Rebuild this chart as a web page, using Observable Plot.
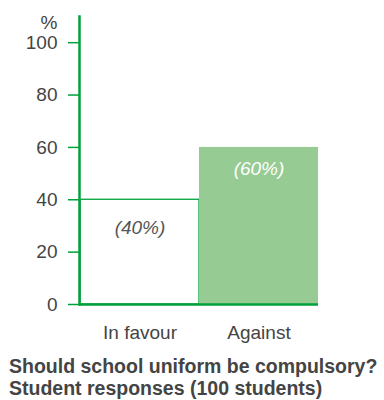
<!DOCTYPE html>
<html><head><meta charset="utf-8">
<script src="https://cdn.jsdelivr.net/npm/d3@7"></script>
<script src="https://cdn.jsdelivr.net/npm/@observablehq/plot@0.6"></script>
<style>
body{margin:0;background:#fff;font-family:"Liberation Sans",Arial,sans-serif;}
#chart svg{display:block;}
#cap{padding:8px 0 0 9px;font-weight:bold;font-size:19.5px;line-height:21.5px;color:#444;white-space:nowrap;}
</style></head><body>
<div id="chart"></div>
<div id="cap"></div>
<script>
const categories = ["In favour", "Against"];
const values = [40, 60];
const valueLabels = ["(40%)", "(60%)"];
const yTicks = [0, 20, 40, 60, 80, 100];
const yMax = 110;
const yUnit = "%";
const captionLines = ["Should school uniform be compulsory?", "Student responses (100 students)"];

const data = categories.map((c, i) => ({category: c, value: values[i], label: valueLabels[i]}));
const green = "#00a13b";
const fillGreen = "#96cb94";
const textColor = "#444";
const fs = 19;

const chart = Plot.plot({
  width: 384, height: 348,
  marginLeft: 79, marginRight: 66, marginTop: 16, marginBottom: 44,
  style: {fontFamily: '"Liberation Sans", Arial, sans-serif', fontSize: fs + "px", background: "white", overflow: "visible"},
  x: {domain: categories, padding: 0, label: null},
  y: {domain: [0, yMax], label: null},
  marks: [
    Plot.barY(data.filter((d, i) => i === 0), {x: "category", y: "value", fill: "white", stroke: green, strokeWidth: 1.3}),
    Plot.barY(data.filter((d, i) => i === 1), {x: "category", y: "value", fill: fillGreen}),
    Plot.text(data.filter((d, i) => i === 0), {x: "category", y: "value", text: "label", dy: 28, fill: "#555", fontStyle: "italic", fontSize: fs}),
    Plot.text(data.filter((d, i) => i === 1), {x: "category", y: "value", text: "label", dy: 21, fill: "white", fontStyle: "italic", fontSize: fs}),
    Plot.axisY({ticks: yTicks, tickSize: 11, tickPadding: 11, stroke: green, strokeWidth: 1.5, fill: textColor, fontSize: fs, label: null}),
    Plot.axisX({tickSize: 0, tickPadding: 21, fill: textColor, fontSize: fs, label: null}),
    Plot.frame({anchor: "left", stroke: green, strokeWidth: 2.5}),
    Plot.ruleY([0], {stroke: green, strokeWidth: 2.5}),
    Plot.text([yUnit], {frameAnchor: "top-left", dx: -22, dy: -1, textAnchor: "end", fill: textColor, fontSize: fs})
  ]
});
document.getElementById("chart").appendChild(chart);
const cap = document.getElementById("cap");
captionLines.forEach(t => { const d = document.createElement("div"); d.textContent = t; cap.appendChild(d); });
</script>
</body></html>
